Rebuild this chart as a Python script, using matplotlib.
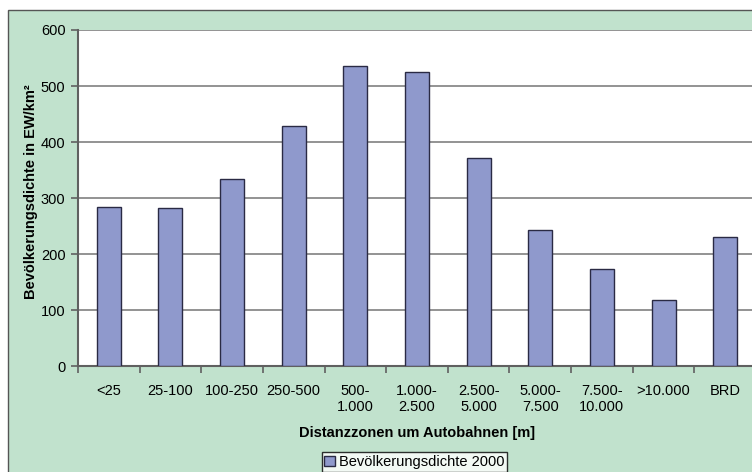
import numpy as np
import matplotlib.pyplot as plt
from matplotlib.patches import Rectangle

plt.rcParams['font.family'] = ['Liberation Sans', 'DejaVu Sans']

categories = ['<25', '25-100', '100-250', '250-500', '500-\n1.000', '1.000-\n2.500',
              '2.500-\n5.000', '5.000-\n7.500', '7.500-\n10.000', '>10.000', 'BRD']
density_2000 = [284, 283, 334, 429, 536, 525, 371, 243, 174, 117, 230]
y_ticks = [0, 100, 200, 300, 400, 500, 600]

bar_color = '#8f99cc'
bg_green = '#c1e2cd'
fs = 10.5

fig = plt.figure(figsize=(7.52, 4.72), dpi=100)
W, H = 752, 472

# green frame behind the chart
frame = Rectangle((8 / W, -0.01), 1.0, 1 - 10 / H + 0.01, transform=fig.transFigure,
                  facecolor=bg_green, edgecolor='#555555', lw=1, zorder=-10)
fig.add_artist(frame)

ax = fig.add_axes([78 / W, 1 - 366 / H, 678 / W, 336 / H])
ax.set_facecolor('white')
ax.set_zorder(1)

x = np.arange(len(categories))
ax.bar(x, density_2000, width=0.39, color=bar_color, edgecolor='#2a2a44', lw=1,
       zorder=3, label='Bevölkerungsdichte 2000')

ax.set_xlim(-0.5, len(categories) - 0.5)
ax.set_ylim(0, 600)
ax.set_yticks(y_ticks)
ax.yaxis.grid(True, color='#808080', lw=1.2, zorder=0)
ax.set_axisbelow(True)

ax.set_xticks(x)
ax.set_xticklabels(categories, fontsize=fs, linespacing=1.2)
ax.set_xticks(np.arange(len(categories) + 1) - 0.5, minor=True)
ax.tick_params(axis='x', which='major', length=0, pad=13)
ax.tick_params(axis='x', which='minor', length=5, width=1.2, color='#606060', direction='out')
ax.tick_params(axis='y', length=5, width=1.2, color='#606060', labelsize=fs, pad=4)

for s in ['top', 'right']:
    ax.spines[s].set_visible(False)
for s in ['left', 'bottom']:
    ax.spines[s].set_color('#606060')
    ax.spines[s].set_linewidth(1.5)

ax.set_ylabel('Bevölkerungsdichte in EW/km²', fontsize=fs, fontweight='bold')
ax.yaxis.set_label_coords(-0.059, 0.52)
ax.set_xlabel('Distanzzonen um Autobahnen [m]', fontsize=fs, fontweight='bold')
ax.xaxis.set_label_coords(0.5, -0.18)

leg = fig.legend(loc='center', bbox_to_anchor=(414.5 / W, 1 - 462 / H), fontsize=fs,
                 frameon=True, fancybox=False, handlelength=0.75, handleheight=0.75,
                 handletextpad=0.25, borderpad=0.2, borderaxespad=0)
leg.get_frame().set_edgecolor('black')
leg.get_frame().set_linewidth(1)

fig.savefig('out.png', dpi=100)
